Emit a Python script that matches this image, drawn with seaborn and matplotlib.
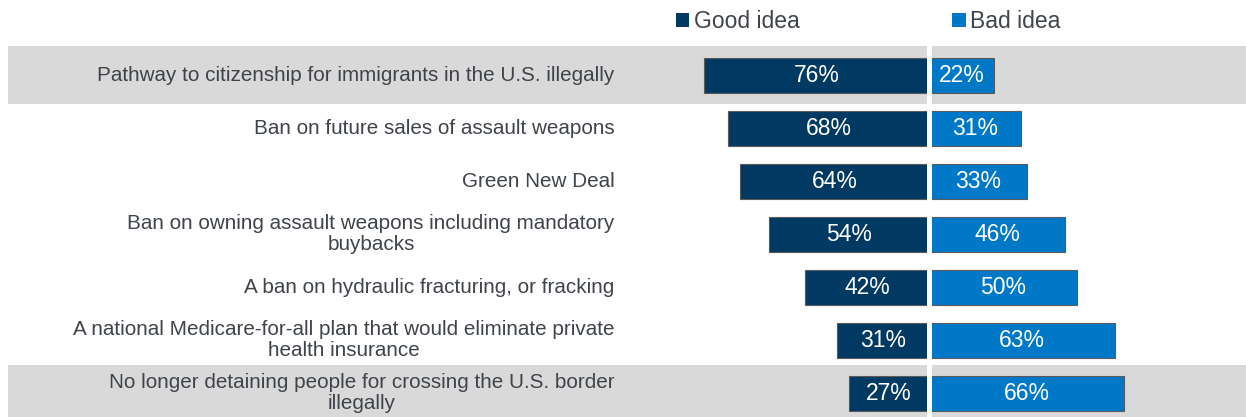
import numpy as np
import pandas as pd
import seaborn as sns
import matplotlib.pyplot as plt
from matplotlib.patches import Patch

# survey items, top to bottom
labels = [
    "Pathway to citizenship for immigrants in the U.S. illegally",
    "Ban on future sales of assault weapons",
    "Green New Deal",
    "Ban on owning assault weapons including mandatory\nbuybacks",
    "A ban on hydraulic fracturing, or fracking",
    "A national Medicare-for-all plan that would eliminate private\nhealth insurance",
    "No longer detaining people for crossing the U.S. border\nillegally",
]
good = [76, 68, 64, 54, 42, 31, 27]
bad = [22, 31, 33, 46, 50, 63, 66]

GOOD_COL = "#003a63"
BAD_COL = "#0078c8"
TEXT_COL = "#3f434a"

sns.set_theme(style="white")
plt.rcParams['font.family'] = ['Liberation Sans', 'DejaVu Sans']

df = pd.DataFrame({"item": labels, "good": good, "bad": bad})
df["good_neg"] = -df["good"]

fig = plt.figure(figsize=(12.46, 4.17), dpi=100)
ax = fig.add_axes([0, 0, 1, 1])

# grey bands behind first and last rows
for i in [0, len(labels) - 1]:
    ax.axhspan(i - 0.54, i + 0.54, xmin=8 / 1246, xmax=1, color="#d9d9d9", zorder=0, lw=0)

sns.barplot(data=df, y="item", x="good_neg", color=GOOD_COL, orient="h", width=0.66,
            saturation=1, edgecolor="#5a5a5a", linewidth=0.8, ax=ax, zorder=2)
sns.barplot(data=df, y="item", x="bad", color=BAD_COL, orient="h", width=0.66,
            saturation=1, edgecolor="#5a5a5a", linewidth=0.8, ax=ax, zorder=2)

for c, vals in zip(ax.containers, [good, bad]):
    ax.bar_label(c, labels=[f"{v}%" for v in vals], label_type="center",
                 color="white", fontsize=16.5)

# white divider at zero
ax.axvline(0, color="white", lw=3.6, zorder=3)

# row labels
for i, lab in enumerate(labels):
    ax.text(-106.3, i, lab, ha="right", va="center", multialignment="center",
            fontsize=14.9, color=TEXT_COL, linespacing=1.1)

ax.set_xlim(-314.2, 107.2)
ax.set_ylim(6.45, -1.415)
ax.axis("off")

handles = [Patch(facecolor=GOOD_COL, edgecolor="none"), Patch(facecolor=BAD_COL, edgecolor="none")]
fig.legend(handles, ["Good idea", "Bad idea"], ncol=2, loc="center left",
           bbox_to_anchor=(676 / 1246, 1 - 22 / 417), frameon=False, fontsize=16.5,
           handlelength=0.57, handleheight=0.57, handletextpad=0.2, columnspacing=6.68,
           borderpad=0, borderaxespad=0, labelcolor=TEXT_COL)

fig.savefig("out.png", dpi=100)
